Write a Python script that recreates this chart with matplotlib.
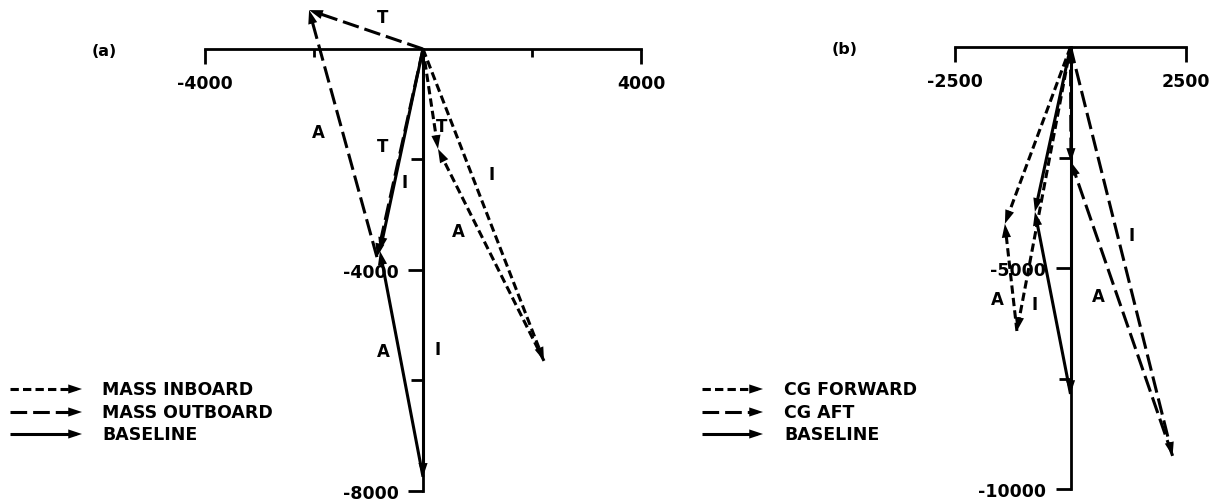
import matplotlib
matplotlib.use('Agg')
import matplotlib.pyplot as plt
import numpy as np

plt.rcParams['font.family'] = ['DejaVu Sans']
plt.rcParams['font.weight'] = 'bold'
plt.rcParams['lines.scale_dashes'] = False

W, H, DPI = 1226, 502, 100

# ---------------- data ----------------
# panel (a): vector diagrams, I from origin, A from I tip to T tip, T from origin
a_series = ['MASS INBOARD', 'MASS OUTBOARD', 'BASELINE']
a_I_tip_x = [2220, -845, 0]
a_I_tip_y = [-5650, -3770, -7750]
a_T_tip_x = [275, -2090, -790]
a_T_tip_y = [-1810, 705, -3660]
a_xticks = [-4000, 4000]
a_xticklabels = ['-4000', '4000']
a_xminor = [-2000, 2000]
a_yticks = [-4000, -8000]
a_yticklabels = ['-4000', '-8000']
a_yminor = [-2000, -6000]
a_vec_labels = ['T', 'A', 'T', 'I', 'T', 'I', 'A', 'A', 'I']
a_vec_label_x = [-734, -1927, -734, -330, 349, 1266, 642, -734, 275]
a_vec_label_y = [580, -1504, -1757, -2409, -1395, -2264, -3297, -5471, -5435]

# panel (b)
b_series = ['CG FORWARD', 'CG AFT', 'BASELINE']
b_I_tip_x = [-1160, 2210, 0]
b_I_tip_y = [-6425, -9250, -7850]
b_T_tip_x = [-1420, 10, -770]
b_T_tip_y = [-4000, -2600, -3730]
b_xticks = [-2500, 2500]
b_xticklabels = ['-2500', '2500']
b_xminor = []
b_yticks = [-5000, -10000]
b_yticklabels = ['-5000', '-10000']
b_yminor = [-2500, -7500]
b_vec_labels = ['A', 'I', 'A', 'I']
b_vec_label_x = [-1591, -768, 595, 1331]
b_vec_label_y = [-5701, -5814, -5633, -4253]

# ---------------- styles ----------------
LW = 2.2
SHORT = dict(linestyle=(0, (6.0, 3.0)))
LONG = dict(linestyle=(0, (12.0, 4.3)))
SOLID = dict(linestyle='-')
styles = [SHORT, LONG, SOLID]
HEAD = '-|>,head_length=0.9,head_width=0.3'
HEAD_SCALE = 11

fig = plt.figure(figsize=(W / DPI, H / DPI), dpi=DPI)


def make_axes(px_left, px_right, ox, oy, sx, sy):
    ax = fig.add_axes([px_left / W, 0, (px_right - px_left) / W, 1])
    ax.set_xlim((px_left - ox) / sx * 1000, (px_right - ox) / sx * 1000)
    ax.set_ylim((oy - H) / sy * 1000, oy / sy * 1000)
    ax.patch.set_alpha(0)
    return ax


def style_axes(ax, xt, xtl, xminor, yt, ytl, yminor):
    ax.spines['top'].set_visible(False)
    ax.spines['right'].set_visible(False)
    ax.spines['bottom'].set_position(('data', 0))
    ax.spines['left'].set_position(('data', 0))
    ax.spines['bottom'].set_bounds(min(xt), max(xt))
    ax.spines['left'].set_bounds(min(yt), 0)
    for s in ('bottom', 'left'):
        ax.spines[s].set_linewidth(2.0)
    ax.set_xticks(xt)
    ax.set_xticklabels(xtl)
    ax.set_xticks(xminor, minor=True)
    ax.set_yticks(yt)
    ax.set_yticklabels(ytl)
    ax.set_yticks(yminor, minor=True)
    ax.tick_params(axis='x', which='major', direction='out', length=10.8, width=2.0,
                   pad=7, labelsize=12.5)
    ax.tick_params(axis='x', which='minor', direction='out', length=6, width=2.0)
    ax.tick_params(axis='y', which='major', direction='out', length=11, width=2.0,
                   pad=6.5, labelsize=12.5)
    ax.tick_params(axis='y', which='minor', direction='out', length=9, width=2.0)


def vec(ax, x0, y0, x1, y1, style):
    p0 = ax.transData.transform((x0, y0))
    p1 = ax.transData.transform((x1, y1))
    L = np.hypot(*(p1 - p0))
    f = max(0.0, 1 - 7.0 / L)
    xe, ye = x0 + (x1 - x0) * f, y0 + (y1 - y0) * f
    ax.plot([x0, xe], [y0, ye], color='black', lw=LW,
            solid_capstyle='butt', dash_capstyle='butt', **style)
    ax.annotate('', xy=(x1, y1), xytext=(x0, y0),
                arrowprops=dict(arrowstyle=HEAD, mutation_scale=HEAD_SCALE, lw=0,
                                color='black', shrinkA=0, shrinkB=0))


def draw_panel(ax, Ix, Iy, Tx, Ty):
    for i in range(len(Ix)):
        st = styles[i]
        vec(ax, 0, 0, Ix[i], Iy[i], st)            # I
        vec(ax, Ix[i], Iy[i], Tx[i], Ty[i], st)    # A
        vec(ax, 0, 0, Tx[i], Ty[i], st)            # T


# panel (a)
axa = make_axes(0, 700, 423, 50, 54.5, 55.2)
style_axes(axa, a_xticks, a_xticklabels, a_xminor, a_yticks, a_yticklabels, a_yminor)
draw_panel(axa, a_I_tip_x, a_I_tip_y, a_T_tip_x, a_T_tip_y)
for t, x, y in zip(a_vec_labels, a_vec_label_x, a_vec_label_y):
    axa.text(x, y, t, ha='center', va='center', fontsize=12, fontweight='bold')

# panel (b)
axb = make_axes(700, 1226, 1070.5, 48, 46.2, 44.2)
style_axes(axb, b_xticks, b_xticklabels, b_xminor, b_yticks, b_yticklabels, b_yminor)
draw_panel(axb, b_I_tip_x, b_I_tip_y, b_T_tip_x, b_T_tip_y)
for t, x, y in zip(b_vec_labels, b_vec_label_x, b_vec_label_y):
    axb.text(x, y, t, ha='center', va='center', fontsize=12, fontweight='bold')

# overlay for panel tags and legends (pixel-like coordinates, y down)
ov = fig.add_axes([0, 0, 1, 1])
ov.set_xlim(0, W)
ov.set_ylim(H, 0)
ov.axis('off')
ov.patch.set_alpha(0)

ov.text(104, 51, '(a)', ha='center', va='center', fontsize=11.5, fontweight='bold')
ov.text(845, 50, '(b)', ha='center', va='center', fontsize=11.5, fontweight='bold')

legend_rows = [390, 413, 435]


def legend(x0, x1, xt, names):
    for name, st, y in zip(names, styles, legend_rows):
        ov.plot([x0, x1 - 6], [y, y], color='black', lw=LW,
                solid_capstyle='butt', dash_capstyle='butt', **st)
        ov.annotate('', xy=(x1, y), xytext=(x0, y),
                    arrowprops=dict(arrowstyle=HEAD, mutation_scale=HEAD_SCALE, lw=0,
                                    color='black', shrinkA=0, shrinkB=0))
        ov.text(xt, y, name, ha='left', va='center', fontsize=12.5, fontweight='bold')


legend(10, 82, 102, a_series)
legend(702, 763, 784, b_series)

fig.savefig('out.png', dpi=DPI)
